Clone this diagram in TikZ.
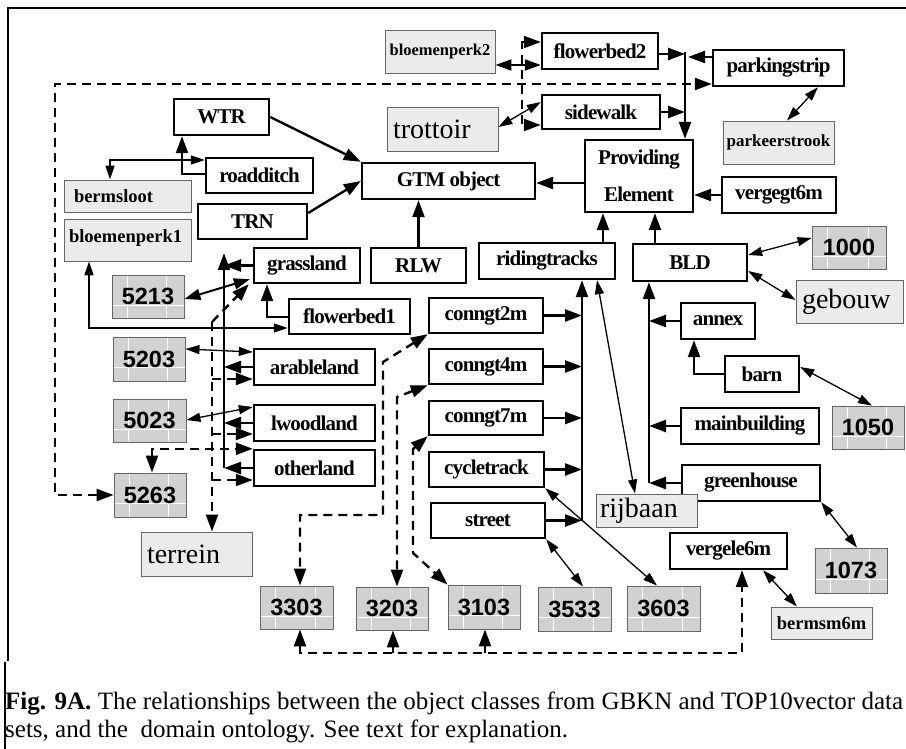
\documentclass[tikz,border=0pt]{standalone}
\usepackage{fontspec}
\setmainfont{Liberation Serif}
\newfontfamily\clsfont{Liberation Serif}[LetterSpace=-4]
\newfontfamily\numfont{Liberation Sans}
\usetikzlibrary{arrows.meta,calc}

% box given by its corners (x1,y1) and (x2,y2), y measured downwards
\newcommand\placebox[7]{%
  \node[#1, minimum width={#5-#3}, minimum height={#6-#4}] (#2)
    at ({(#3+#5)/2},{(#4+#6)/2}) {#7};}

\tikzset{
  grid lines/.style={path picture={
    \draw[white, line width=0.8pt]
      ($(path picture bounding box.south west)!0.21!(path picture bounding box.south east)$) --
      ($(path picture bounding box.north west)!0.21!(path picture bounding box.north east)$)
      ($(path picture bounding box.south west)!0.76!(path picture bounding box.south east)$) --
      ($(path picture bounding box.north west)!0.76!(path picture bounding box.north east)$)
      ($(path picture bounding box.south west)!0.3!(path picture bounding box.north west)$) --
      ($(path picture bounding box.south east)!0.3!(path picture bounding box.north east)$);}},
  cls/.style={draw, line width=2.4pt, fill=white, inner sep=0pt,
    font=\clsfont\bfseries\fontsize{21}{24}\selectfont},
  lbl/.style={draw=black!60, line width=0.9pt, fill=black!8, inner sep=0pt,
    font=\bfseries\fontsize{17}{20}\selectfont},
  word/.style={draw=black!60, line width=0.9pt, fill=black!8, inner sep=0pt,
    align=left, font=\fontsize{28}{30}\selectfont},
  code/.style={draw=black!60, line width=0.9pt, fill=black!18, inner sep=0pt,
    grid lines, font=\numfont\bfseries\fontsize{23.5}{26}\selectfont},
  link/.style={line width=2.4pt, -{Triangle[length=17pt,width=12pt]}},
  link2/.style={line width=2.4pt,
    {Triangle[length=17pt,width=12pt]}-{Triangle[length=17pt,width=12pt]}},
  dlink/.style={link, dash pattern=on 9pt off 6pt},
  dlink2/.style={link2, dash pattern=on 9pt off 6pt},
  rel/.style={line width=1.3pt,
    {Triangle[length=14pt,width=9pt]}-{Triangle[length=14pt,width=9pt]}},
  relm/.style={line width=2pt,
    {Triangle[length=16pt,width=11pt]}-{Triangle[length=16pt,width=11pt]}},
  rim/.style={line width=2.5pt},
  caption/.style={anchor=base west, inner sep=0pt, font=\fontsize{25}{28}\selectfont}
}

\begin{document}
\begin{tikzpicture}[x=1pt,y=-1pt]
\useasboundingbox (0,0) rectangle (906,749);
\clip (0,0) rectangle (906,749);
\fill[white] (0,0) rectangle (906,749);

% frame
\draw[rim] (906,8) -| (8,661);
\draw[rim] (5,662) -- (5,749);

% ---------- ontology classes ----------
\placebox{cls}{WTR}{174}{99}{269}{135}{WTR}
\placebox{cls}{roadditch}{206}{158}{313}{193}{roadditch}
\placebox{cls}{TRN}{198}{204}{307}{239}{TRN}
\placebox{cls}{GTM}{362}{163}{535}{199}{GTM object}
\placebox{cls, align=center, font=\clsfont\bfseries\fontsize{21}{37}\selectfont}{prov}{585}{140}{693}{212}{Providing\\Element}
\placebox{cls}{vergegt6m}{722}{177}{836}{213}{vergegt6m}
\placebox{cls}{flowerbed2}{542}{33}{658}{69}{flowerbed2}
\placebox{cls}{parkingstrip}{713}{50}{844}{86}{parkingstrip}
\placebox{cls}{sidewalk}{542}{95}{660}{129}{sidewalk}
\placebox{cls}{grassland}{254}{248}{360}{283}{grassland}
\placebox{cls}{RLW}{371}{248}{466}{283}{RLW}
\placebox{cls}{ridingtracks}{479}{243}{615}{279}{ridingtracks}
\placebox{cls}{BLD}{633}{244}{747}{281}{BLD}
\placebox{cls}{flowerbed1}{289}{299}{410}{334}{flowerbed1}
\placebox{cls}{conngt2m}{429}{298}{543}{333}{conngt2m}
\placebox{cls}{conngt4m}{429}{349}{543}{384}{conngt4m}
\placebox{cls}{conngt7m}{429}{401}{543}{435}{conngt7m}
\placebox{cls}{cycletrack}{429}{452}{544}{487}{cycletrack}
\placebox{cls}{street}{431}{503}{545}{538}{street}
\placebox{cls}{arableland}{254}{349}{375}{385}{arableland}
\placebox{cls}{lwoodland}{254}{405}{375}{441}{lwoodland}
\placebox{cls}{otherland}{254}{450}{375}{486}{otherland}
\placebox{cls}{annex}{681}{303}{755}{339}{annex}
\placebox{cls}{barn}{725}{356}{799}{392}{barn}
\placebox{cls}{mainbuilding}{681}{408}{819}{444}{mainbuilding}
\placebox{cls}{greenhouse}{682}{465}{820}{501}{greenhouse}
\placebox{cls}{vergele6m}{670}{533}{787}{569}{vergele6m}

% ---------- GBKN names ----------
\placebox{lbl, font=\bfseries\fontsize{16.5}{20}\selectfont}{bloemenperk2}{385}{30}{495}{73}{bloemenperk2}
\placebox{lbl}{parkeerstrook}{723}{121}{834}{164}{parkeerstrook}
\placebox{lbl, font=\bfseries\fontsize{18.5}{20}\selectfont, text width=107pt, align=left}{bermsloot}{64}{180}{191}{212}{bermsloot}
\placebox{lbl, font=\bfseries\fontsize{18.5}{20}\selectfont, text width=117pt, align=left}{bloemenperk1}{64}{219}{191}{261}{\raisebox{7pt}{bloemenperk1}}
\placebox{lbl, font=\bfseries\fontsize{18.5}{20}\selectfont}{bermsm6m}{771}{607}{872}{639}{\raisebox{-4pt}{bermsm6m}}
\placebox{word, text width=99pt}{trottoir}{387}{107}{498}{151}{trottoir}
\placebox{word, text width=95pt}{gebouw}{796}{280}{903}{323}{gebouw}
\placebox{word, text width=93pt}{rijbaan}{596}{494}{697}{527}{rijbaan}
\placebox{word, text width=99pt}{terrein}{141}{532}{252}{576}{terrein}

% ---------- TOP10vector codes ----------
\placebox{code}{n1000}{812}{226}{886}{269}{1000}
\placebox{code}{n5213}{112}{275}{184}{318}{5213}
\placebox{code}{n5203}{113}{337}{185}{381}{5203}
\placebox{code}{n5023}{113}{399}{186}{442}{5023}
\placebox{code}{n5263}{114}{473}{186}{517}{5263}
\placebox{code}{n1050}{832}{406}{904}{449}{1050}
\placebox{code}{n1073}{815}{548}{887}{593}{1073}
\placebox{code}{n3303}{260}{586}{333}{629}{3303}
\placebox{code}{n3203}{356}{587}{428}{630}{3203}
\placebox{code}{n3103}{448}{585}{520}{629}{3103}
\placebox{code}{n3533}{538}{587}{611}{631}{3533}
\placebox{code}{n3603}{627}{586}{700}{631}{3603}

% ---------- subclass links ----------
\draw[link] (WTR.east) -- (GTM.north west);
\draw[link] (TRN.east |- 0,213) -- (GTM.west);
\draw[link] (RLW.north) -- (GTM.south -| RLW.north);
\draw[link] (prov.west |- 0,183) -- (GTM.east |- 0,183);
\draw[link] (vergegt6m.west) -- (prov.east |- vergegt6m.west);
\draw[link] (ridingtracks.north -| 603,0) -- (prov.south -| 603,0);
\draw[link] (BLD.north -| 655,0) -- (prov.south -| 655,0);

% collector above Providing Element
\coordinate (pb) at (685,52);
\draw[link] (pb) -- (prov.north -| pb);
\draw[link] (flowerbed2.east |- 0,54) -- (pb |- 0,54);
\draw[link] (parkingstrip.west |- 0,57) -- (688,57);
\draw[link] (sidewalk.east |- 0,112) -- (pb |- 0,112);

\draw[link] (roadditch.west |- 0,174) -| (WTR.south -| 182,0);
\draw[link] (flowerbed1.west |- 0,317) -| (grassland.south -| 267,0);

% land use collector
\coordinate (lb) at (224,468);
\draw[link, shorten >=13pt] (otherland.west -| lb) -- (TRN.south -| lb);
\draw[link] (grassland.west) -- (grassland.west -| lb);
\draw[link] (arableland.west) -- (arableland.west -| lb);
\draw[link] (lwoodland.west) -- (lwoodland.west -| lb);
\draw[link] (otherland.west) -- (otherland.west -| lb);

% road collector
\coordinate (rb) at (582,521);
\draw[link] (street.east -| rb) -- (ridingtracks.south -| rb);
\draw[link] (conngt2m.east) -- (conngt2m.east -| rb);
\draw[link] (conngt4m.east) -- (conngt4m.east -| rb);
\draw[link] (conngt7m.east) -- (conngt7m.east -| rb);
\draw[link] (cycletrack.east) -- (cycletrack.east -| rb);
\draw[link] (street.east) -- (street.east -| rb);

% building collector
\coordinate (bb) at (649,483);
\draw[link] (greenhouse.west -| bb) -- (BLD.south -| bb);
\draw[link] (annex.west) -- (annex.west -| bb);
\draw[link] (mainbuilding.west) -- (mainbuilding.west -| bb);
\draw[link] (greenhouse.west) -- (greenhouse.west -| bb);
\draw[link] (barn.west) -| (annex.south -| 694,0);

% ---------- correspondences ----------
\draw[rel] (bermsloot.north -| 110,0) |- (roadditch.west |- 0,160);
\draw[rel] (bloemenperk1.south -| 89,0) |- (flowerbed1.west |- 0,328);
\draw[relm] (n5213.east |- 0,299) -- ([shift={(-3pt,5pt)}]grassland.south west);
\draw[rel] (n5203.east |- 0,349) -- (arableland.west |- 0,352);
\draw[rel] (n5023.east |- 0,420) -- (lwoodland.west |- 0,407);
\draw[relm] (bloemenperk2.east |- 0,65) -- (flowerbed2.west |- 0,65);
\draw[rel] (trottoir.east |- 0,127) -- (sidewalk.west |- 0,102);
\draw[rel] (parkingstrip.south -| 818,0) -- (parkeerstrook.north -| 787,0);
\draw[rel] (ridingtracks.south -| 597,0) -- (rijbaan.north -| 635,0);
\draw[rel] (cycletrack.south east) -- (n3603.north -| 657,0);
\draw[rel] (street.south east) -- (n3533.north -| 583,0);
\draw[rel] (BLD.east |- 0,255) -- (n1000.west |- 0,238);
\draw[rel] (BLD.east |- 0,271) -- (gebouw.west |- 0,300);
\draw[rel] (barn.east |- 0,367) -- (n1050.north -| 872,0);
\draw[rel] (greenhouse.south east) -- (n1073.north -| 857,0);
\draw[rel] (vergele6m.south -| 763,0) -- (bermsm6m.north -| 797,0);

% ---------- dashed correspondences ----------
\draw[dlink2] (n5263.west) -| (55,84) -- (parkingstrip.west |- 0,84);
\draw[dlink2] (flowerbed2.west |- 0,42) -| (522,84) |- (sidewalk.west |- 0,125);
\draw[dlink2] (n5263.north -| 152,0) |- (otherland.north west);

\coordinate (tb) at (212,322);
\draw[dlink] (tb) -- ([xshift=-4pt]grassland.south west);
\draw[dlink] (tb) -- (terrein.north -| tb);
\draw[dlink] (tb |- 0,379) -- (arableland.west |- 0,379);
\draw[dlink] (tb |- 0,434) -- (lwoodland.west |- 0,434);
\draw[dlink] (tb |- 0,480) -- (otherland.west |- 0,480);

\draw[dlink2] (conngt2m.south west) -- (383,362) |- (300,515) -- (n3303.north -| 300,0);
\draw[dlink2] (conngt4m.south west) -- (397,397) -- (n3203.north -| 397,0);
\draw[dlink2] (conngt7m.south west) -- (413,449) -- (413,553) -- (n3103.north west);

\draw[dlink2] (n3303.south -| 300,0) |- (742,653) -- (vergele6m.south -| 742,0);
\draw[dlink] (393,653) -- (n3203.south -| 393,0);
\draw[dlink] (485,653) -- (n3103.south -| 485,0);

% ---------- caption ----------
\node[caption] (cap1) at (5,709) {\makebox[898pt][s]{\textbf{Fig. 9A.} The relationships between the object classes from GBKN and TOP10vector data}};
\node[caption] (cap2) at (5,737) {sets, and the\ \ domain ontology. See text for explanation.};
\end{tikzpicture}
\end{document}
